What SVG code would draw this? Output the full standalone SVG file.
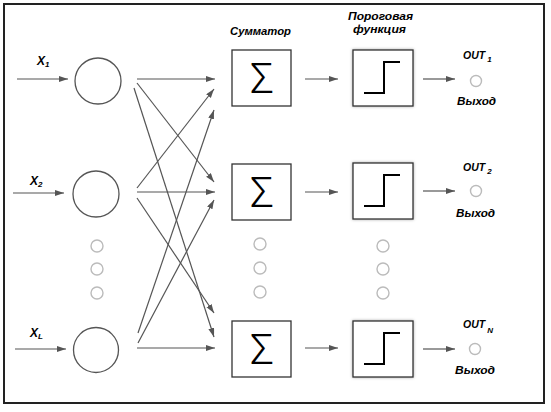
<svg xmlns="http://www.w3.org/2000/svg" width="551" height="412" viewBox="0 0 551 412">
<style>
.lbl{font-family:"Liberation Sans",Arial,sans-serif;font-weight:bold;font-style:italic;fill:#000}
.in{fill:none;stroke:#555;stroke-width:1.3}
.dot{fill:none;stroke:#bbb;stroke-width:1.4}
.box{fill:#fff;stroke:#333;stroke-width:1.3}
.step{fill:none;stroke:#000;stroke-width:2}
.sig{font-family:Roboto,"DejaVu Sans",sans-serif;font-weight:300;font-size:42px;fill:#000;text-anchor:middle}
.con line{stroke:#555;stroke-width:1.2;marker-end:url(#ah)}
</style>
<defs>
<marker id="ah" markerUnits="userSpaceOnUse" markerWidth="10" markerHeight="8" refX="9" refY="3" orient="auto">
<path d="M0,0 L9,3 L0,6 Z" fill="#555"/>
</marker>
<filter id="sh" x="-20%" y="-20%" width="140%" height="140%">
<feDropShadow dx="0" dy="0" stdDeviation="1.5" flood-color="#000" flood-opacity="0.35"/>
</filter>
</defs>
<rect x="4" y="4" width="540" height="399" fill="#fff" stroke="#222" stroke-width="2"/>

<g id="in1"><circle class="in" cx="98" cy="81" r="23"/><text class="lbl" x="37" y="65" font-size="12">X<tspan font-size="8" dy="2">1</tspan></text></g>
<g id="in2"><circle class="in" cx="96" cy="194" r="23"/><text class="lbl" x="30" y="185" font-size="12">X<tspan font-size="8" dy="2">2</tspan></text></g>
<g id="inL"><circle class="in" cx="96" cy="350" r="22.5"/><text class="lbl" x="30" y="337" font-size="12">X<tspan font-size="8" dy="2">L</tspan></text></g>
<g id="dotsIn"><circle class="dot" cx="97" cy="246" r="6"/><circle class="dot" cx="97" cy="269" r="6"/><circle class="dot" cx="97" cy="293" r="6"/></g>

<text class="lbl" x="230" y="35" font-size="11.5" textLength="61" lengthAdjust="spacingAndGlyphs">Сумматор</text>
<text class="lbl" x="348" y="20" font-size="10.5" textLength="65" lengthAdjust="spacingAndGlyphs">Пороговая</text>
<text class="lbl" x="353" y="33" font-size="10.5" textLength="53" lengthAdjust="spacingAndGlyphs">функция</text>

<g id="sum1"><rect class="box" x="232" y="50" width="59" height="56"/><text class="sig" x="262" y="93">Σ</text></g>
<g id="sum2"><rect class="box" x="232" y="164" width="59" height="56"/><text class="sig" x="262" y="207">Σ</text></g>
<g id="sum3"><rect class="box" x="232" y="321" width="59" height="56"/><text class="sig" x="262" y="364">Σ</text></g>
<g id="dotsSum"><circle class="dot" cx="260" cy="244" r="6"/><circle class="dot" cx="260" cy="268" r="6"/><circle class="dot" cx="260" cy="292" r="6"/></g>

<g id="thr1"><rect class="box" x="353" y="50" width="60" height="56" filter="url(#sh)"/><polyline class="step" points="364,93 384,93 384,62 400,62"/></g>
<g id="thr2"><rect class="box" x="353" y="163" width="60" height="56" filter="url(#sh)"/><polyline class="step" points="364,206 384,206 384,175 400,175"/></g>
<g id="thr3"><rect class="box" x="353" y="321" width="60" height="56" filter="url(#sh)"/><polyline class="step" points="364,364 384,364 384,333 400,333"/></g>
<g id="dotsThr"><circle class="dot" cx="383" cy="246" r="6"/><circle class="dot" cx="383" cy="269" r="6"/><circle class="dot" cx="383" cy="293" r="6"/></g>

<g id="out1"><circle class="dot" cx="476" cy="81" r="5.5"/><text class="lbl" x="463" y="59" font-size="10.5">OUT<tspan font-size="8" dx="2" dy="3">1</tspan></text><text class="lbl" x="457" y="105" font-size="11" textLength="39" lengthAdjust="spacingAndGlyphs">Выход</text></g>
<g id="out2"><circle class="dot" cx="476" cy="191" r="5.5"/><text class="lbl" x="463" y="171" font-size="10.5">OUT<tspan font-size="8" dx="2" dy="3">2</tspan></text><text class="lbl" x="456" y="217" font-size="11" textLength="39" lengthAdjust="spacingAndGlyphs">Выход</text></g>
<g id="outN"><circle class="dot" cx="475" cy="349" r="5.5"/><text class="lbl" x="463" y="328" font-size="10.5">OUT<tspan font-size="8" dx="2" dy="5">N</tspan></text><text class="lbl" x="455" y="374" font-size="11" textLength="40" lengthAdjust="spacingAndGlyphs">Выход</text></g>

<g id="connectors" class="con">
<line x1="17" y1="79" x2="68" y2="79"/>
<line x1="13" y1="193" x2="64" y2="193"/>
<line x1="15" y1="349" x2="66" y2="349"/>
<line x1="137" y1="79" x2="215" y2="79"/>
<line x1="137" y1="83" x2="214" y2="182"/>
<line x1="134" y1="88" x2="214" y2="337"/>
<line x1="137" y1="188" x2="214" y2="89"/>
<line x1="137" y1="192" x2="215" y2="192"/>
<line x1="137" y1="198" x2="214" y2="313"/>
<line x1="138" y1="333" x2="214" y2="110"/>
<line x1="138" y1="343" x2="214" y2="200"/>
<line x1="137" y1="348" x2="215" y2="348"/>
<line x1="305" y1="79" x2="338" y2="79"/>
<line x1="305" y1="192" x2="338" y2="192"/>
<line x1="305" y1="348" x2="338" y2="348"/>
<line x1="423" y1="79" x2="455" y2="79"/>
<line x1="423" y1="191" x2="455" y2="191"/>
<line x1="423" y1="349" x2="455" y2="349"/>
</g>
</svg>
